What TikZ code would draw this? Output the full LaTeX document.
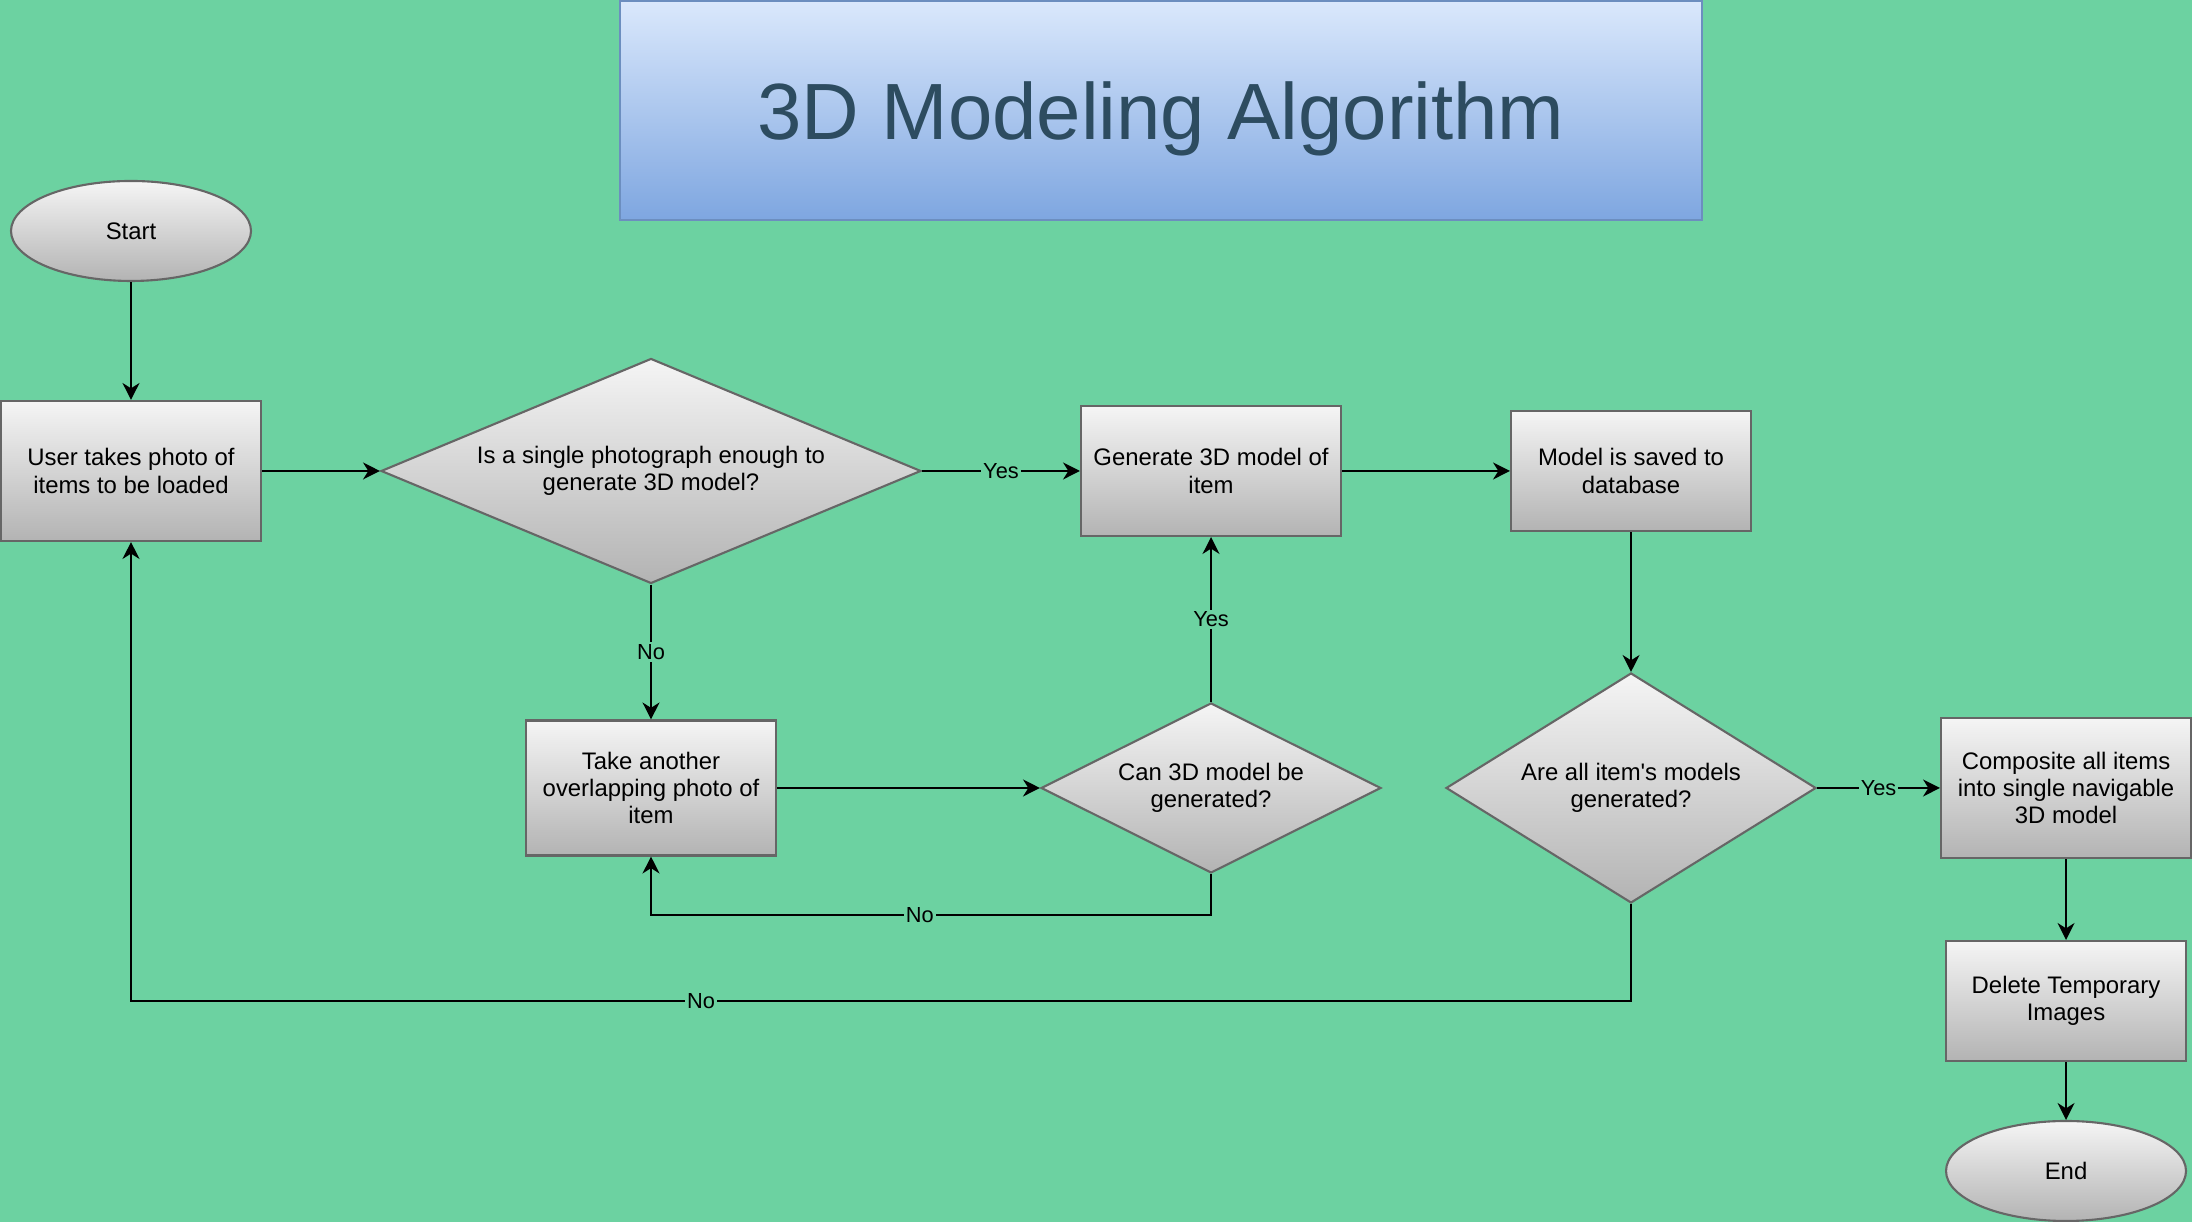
\documentclass[tikz,border=0pt]{standalone}
\usepackage{fontspec}
\setmainfont{Liberation Sans}
\usetikzlibrary{positioning}
\usetikzlibrary{shapes.geometric}
\usetikzlibrary{arrows.meta}
\definecolor{bggreen}{RGB}{108,210,161}
\definecolor{boxtop}{HTML}{F5F5F5}
\definecolor{boxbot}{HTML}{B3B3B3}
\definecolor{boxline}{HTML}{666666}
\definecolor{titletop}{HTML}{DAE8FC}
\definecolor{titlebot}{HTML}{7EA6E0}
\definecolor{titleline}{HTML}{6C8EBF}
\definecolor{titletext}{RGB}{45,76,96}
\tikzset{
    greyfill/.style = {top color=boxtop, bottom color=boxbot, draw=boxline, line width=0.6pt},
    process/.style = {rectangle, greyfill, align=center, inner sep=0pt, font=\fontsize{6.8}{7.7}\selectfont},
    terminal/.style = {ellipse, greyfill, inner sep=0pt, font=\fontsize{6.8}{7.7}\selectfont},
    decision/.style = {diamond, greyfill, align=center, inner sep=0pt, font=\fontsize{6.8}{7.7}\selectfont},
    lbl/.style = {fill=bggreen, inner sep=0.6pt, font=\fontsize{6.2}{7}\selectfont}}

\begin{document}
\begin{tikzpicture}[>={Stealth[length=4.8pt,width=4.8pt,inset=1.5pt]},
    on grid,
    flow/.style={->, line width=0.6pt}
    ]
    \fill[bggreen] (0,0) rectangle (21.92,12.22);
    \useasboundingbox (0,0) rectangle (21.92,12.22);
    \node (title) [rectangle, top color=titletop, bottom color=titlebot, draw=titleline, line width=0.6pt,
        minimum width=10.82cm, minimum height=2.19cm, text=titletext, text depth=0pt,
        font=\fontsize{22.7}{26}\selectfont] at (11.61,11.115) {3D Modeling Algorithm};
    \coordinate (canloop) at (0,3.07);
    \coordinate (bigloop) at (0,2.21);
    \node (start) [terminal, minimum width=2.4cm, minimum height=1cm] at (1.31,9.91) {Start};
    \node (user) [process, minimum width=2.6cm, minimum height=1.4cm, below=2.4cm of start] {User takes photo of\\items to be loaded};
    \node (single) [decision, aspect=2.4, minimum width=5.4cm, minimum height=2.25cm, right=5.2cm of user] {Is a single photograph enough to\\generate 3D model?};
    \node (gen) [process, minimum width=2.6cm, minimum height=1.3cm, right=5.6cm of single] {Generate 3D model of\\item};
    \node (saved) [process, minimum width=2.4cm, minimum height=1.2cm, right=4.2cm of gen] {Model is saved to\\database};
    \node (take) [process, minimum width=2.5cm, minimum height=1.35cm, below=3.17cm of single] {Take another\\overlapping photo of\\item};
    \node (can) [decision, aspect=2, minimum width=3.4cm, minimum height=1.7cm, below=3.17cm of gen] {Can 3D model be\\generated?};
    \node (all) [decision, aspect=1.6, minimum width=3.7cm, minimum height=2.3cm, below=3.17cm of saved] {Are all item\textquotesingle s models\\generated?};
    \node (comp) [process, minimum width=2.5cm, minimum height=1.4cm, right=4.35cm of all] {Composite all items\\into single navigable\\3D model};
    \node (del) [process, minimum width=2.4cm, minimum height=1.2cm, below=2.13cm of comp] {Delete Temporary\\Images};
    \node (end) [terminal, minimum width=2.4cm, minimum height=1cm, below=1.7cm of del] {End};
    \draw[flow] (start) -- (user);
    \draw[flow] (user) -- (single);
    \draw[flow] (single) -- node[lbl] {Yes} (gen);
    \draw[flow] (gen) -- (saved);
    \draw[flow] (single) -- node[lbl] {No} (take);
    \draw[flow] (take) -- (can);
    \draw[flow] (can) -- node[lbl] {Yes} (gen);
    \draw[flow] (can.south) -- (can.south |- canloop) -| node[lbl, pos=0.26] {No} (take.south);
    \draw[flow] (saved) -- (all);
    \draw[flow] (all) -- node[lbl] {Yes} (comp);
    \draw[flow] (all.south) -- (all.south |- bigloop) -| node[lbl, pos=0.31] {No} (user.south);
    \draw[flow] (comp) -- (del);
    \draw[flow] (del) -- (end);
\end{tikzpicture}
\end{document}
